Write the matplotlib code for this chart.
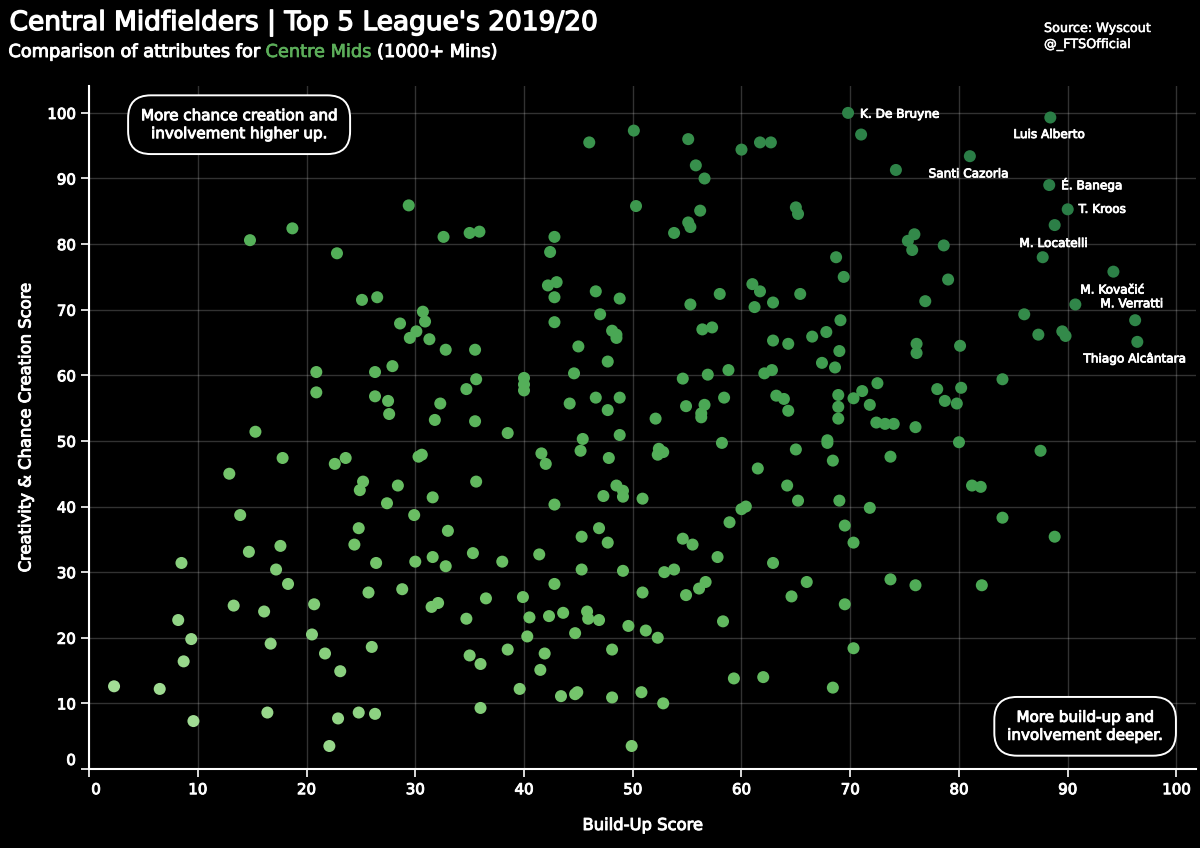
import matplotlib
matplotlib.use("Agg")
import matplotlib.pyplot as plt
import matplotlib.patheffects as pe
import matplotlib.transforms as mtransforms
import numpy as np
from matplotlib.colors import LinearSegmentedColormap, Normalize

# ── Data ──────────────────────────────────────────────────────────────────────
build_up = [
    14.8, 18.7, 22.8, 29.4, 25.1, 26.5, 28.6, 29.5, 30.1, 30.7, 30.9, 31.3,
    20.9, 20.9, 26.3, 27.9, 26.3, 27.5, 27.6, 15.3,
    17.8, 12.9, 22.6, 23.6, 25.2, 24.9, 28.4, 27.4, 29.9, 30.3, 30.6,
    13.9, 14.7, 17.6, 24.8, 24.4, 8.5, 17.2, 18.3, 26.4, 30.0, 25.7, 28.8,
    13.3, 16.1, 20.7, 8.2, 9.4, 20.5, 16.7, 26.0,
    2.3, 6.5, 8.7, 9.6, 16.4, 21.7, 23.1, 22.9, 24.8, 26.3, 22.1,
    32.6, 35.0, 35.9, 46.0, 50.1, 50.3, 55.1, 55.8, 56.6, 60.0, 61.7, 62.7,
    56.2, 55.1, 55.3, 53.8, 65.0, 65.2,
    42.8, 42.4, 42.2, 43.0, 42.8, 42.8, 46.6, 48.8, 47.0, 48.1, 48.5, 48.5,
    45.0, 47.7, 44.6, 44.2, 46.6, 48.8, 47.7, 52.1, 45.4, 48.8,
    32.8, 35.5, 35.6, 34.7, 32.3, 31.8, 35.5, 38.5, 40.0, 40.0, 40.0,
    54.6, 56.9, 58.8, 54.9, 56.6, 56.3, 56.3, 58.4,
    61.0, 61.7, 58.0, 55.3, 62.9, 61.2, 65.4, 56.4, 57.3, 62.9, 64.3, 66.5,
    62.1, 62.8, 63.2, 63.9, 64.3, 58.2,
    45.2, 41.6, 42.0, 47.8, 65.0, 52.4, 52.3, 52.8, 61.5, 64.2, 65.2, 60.0,
    60.4, 58.9,
    35.6, 31.6, 33.0, 48.5, 49.1, 49.1, 47.3, 50.9, 42.8, 46.9, 45.3, 47.7,
    54.6, 55.5, 57.8, 62.9,
    31.6, 32.8, 35.3, 38.0, 41.4, 45.3, 49.1, 52.9, 53.8,
    31.5, 32.1, 36.5, 34.7, 39.9, 42.8, 40.5, 42.3, 43.6, 45.8, 45.9, 46.9,
    50.9, 49.6, 51.2, 52.3, 44.7, 40.3,
    54.9, 56.1, 56.7, 58.3, 64.6, 66.0,
    38.5, 35.0, 36.0, 41.9, 41.5, 48.1, 39.6, 43.4, 44.7, 44.9, 48.1, 50.8,
    52.8, 59.3, 62.0, 36.0, 49.9,
    69.8, 71.0, 74.2, 81.0, 88.4, 88.3, 90.0, 88.8, 87.7, 94.2, 90.7, 96.2,
    96.4, 86.0, 87.3, 89.5, 89.8,
    75.9, 75.3, 75.7, 78.6, 79.0, 76.9, 68.7, 69.4, 69.1, 67.8, 69.0, 67.4,
    68.6, 76.1, 76.1, 80.1,
    84.0, 72.5, 71.1, 70.3, 68.9, 68.9, 68.9, 71.8, 72.4, 73.2, 74.0, 76.0,
    78.0, 78.7, 79.8, 80.2,
    67.9, 67.9, 68.4, 73.7, 80.0, 87.5, 81.2, 82.0, 69.0, 71.8, 84.0, 69.5,
    70.3, 88.8, 73.7, 76.0, 82.1, 69.5, 70.3, 68.4,
]
creativity = [
    80.6, 82.4, 78.6, 85.9, 71.5, 71.9, 67.9, 65.7, 66.7, 69.7, 68.2, 65.5,
    60.5, 57.4, 60.5, 61.4, 56.8, 56.1, 54.1, 51.4,
    47.4, 45.0, 46.5, 47.4, 43.8, 42.5, 43.2, 40.5, 38.7, 47.6, 47.9,
    38.7, 33.1, 34.0, 36.7, 34.2, 31.4, 30.4, 28.2, 31.4, 31.6, 26.9, 27.4,
    24.9, 24.0, 25.1, 22.7, 19.8, 20.5, 19.1, 18.6,
    12.6, 12.2, 16.4, 7.3, 8.6, 17.6, 14.9, 7.7, 8.6, 8.4, 3.5,
    81.1, 81.7, 81.9, 95.5, 97.3, 85.8, 96.0, 92.0, 90.0, 94.4, 95.5, 95.5,
    85.1, 83.3, 82.6, 81.7, 85.6, 84.6,
    81.1, 78.8, 73.7, 74.2, 71.9, 68.1, 72.8, 71.7, 69.3, 66.8, 66.2, 65.7,
    64.4, 62.1, 60.3, 55.7, 56.6, 56.6, 54.7, 53.4, 50.3, 50.9,
    63.9, 63.9, 59.4, 57.9, 55.7, 53.2, 53.0, 51.2, 59.6, 58.6, 57.7,
    59.5, 60.1, 60.8, 55.3, 55.5, 54.2, 53.6, 56.6,
    73.9, 72.8, 72.4, 70.8, 71.1, 70.4, 72.4, 67.0, 67.3, 65.3, 64.8, 65.9,
    60.3, 60.8, 56.9, 56.4, 54.6, 49.7,
    48.5, 48.1, 46.5, 47.4, 48.7, 48.8, 47.9, 48.3, 45.8, 43.2, 40.9, 39.6,
    40.0, 37.6,
    43.8, 41.4, 36.3, 43.2, 42.4, 41.5, 41.6, 41.2, 40.3, 36.7, 35.4, 34.5,
    35.1, 34.2, 32.3, 31.4,
    32.3, 30.9, 32.9, 31.6, 32.7, 30.4, 30.2, 30.0, 30.4,
    24.7, 25.3, 26.0, 22.9, 26.2, 28.2, 23.1, 23.3, 23.8, 24.0, 22.9, 22.7,
    26.9, 21.8, 21.1, 20.0, 20.7, 20.2,
    26.5, 27.5, 28.5, 22.5, 26.3, 28.5,
    18.2, 17.3, 16.0, 17.6, 15.1, 18.2, 12.2, 11.1, 11.4, 11.7, 10.9, 11.7,
    10.0, 13.8, 14.0, 9.3, 3.5,
    100.0, 96.7, 91.3, 93.4, 99.3, 89.0, 85.3, 82.9, 78.0, 75.8, 70.8, 68.4,
    65.1, 69.3, 66.2, 66.7, 66.0,
    81.5, 80.5, 79.1, 79.8, 74.6, 71.3, 78.0, 75.0, 68.4, 66.6, 63.7, 61.9,
    61.2, 64.8, 63.4, 64.5,
    59.4, 58.8, 57.6, 56.5, 57.0, 55.2, 53.4, 55.5, 52.8, 52.6, 52.6, 52.1,
    57.9, 56.1, 55.7, 58.1,
    50.1, 49.7, 47.0, 47.6, 49.8, 48.5, 43.2, 43.0, 40.9, 39.8, 38.3, 37.1,
    34.5, 35.4, 28.9, 28.0, 28.0, 25.1, 18.4, 12.4,
]

label_names = ["K. De Bruyne", "Luis Alberto", "Santi Cazorla", "É. Banega",
               "T. Kroos", "M. Locatelli", "M. Kovačić", "M. Verratti",
               "Thiago Alcântara"]
label_x = [70.9, 88.3, 80.9, 89.4, 91.0, 88.7, 94.1, 93.0, 96.2]
label_y = [99.8, 96.7, 90.7, 89.0, 85.3, 80.1, 73.0, 70.9, 62.5]
label_ha = ["left", "center", "center", "left", "left", "center", "center",
            "left", "center"]

x_ticks = list(range(0, 101, 10))
y_ticks = list(range(0, 101, 10))

# ── Style ─────────────────────────────────────────────────────────────────────
BG = "#000000"
FG = "#ffffff"
GREEN_TEXT = "#5cae5a"
plt.rcParams["font.family"] = ["DejaVu Sans"]


def heavy(color=FG, lw=0.7):
    # fake a semi-bold weight with a thin stroke in the text colour
    return [pe.withStroke(linewidth=lw, foreground=color)]


cmap = LinearSegmentedColormap.from_list(
    "fts_greens", ["#a8e09a", "#6cc064", "#45a452", "#2a7d46"])

fig = plt.figure(figsize=(12, 8.48), dpi=100, facecolor=BG)
ax = fig.add_axes([0.0742, 0.0932, 0.9225, 0.8054], facecolor=BG)

bx = np.array(build_up)
cy = np.array(creativity)
ax.scatter(bx, cy, c=bx + cy, cmap=cmap, norm=Normalize(10, 175),
           s=75, linewidths=0, zorder=3)

for name, lx, ly, ha in zip(label_names, label_x, label_y, label_ha):
    ax.text(lx, ly, name, color=FG, fontsize=8.7, ha=ha, va="center",
            zorder=4, path_effects=heavy(lw=0.6))

box_kw = dict(boxstyle="round,pad=0.85,rounding_size=1.5", fc=BG, ec=FG,
              lw=1.4)
ax.text(13.8, 98.2, "More chance creation and\ninvolvement higher up.",
        color=FG, fontsize=10.9, ha="center", va="center", linespacing=1.25,
        bbox=box_kw, zorder=5, path_effects=heavy())
ax.text(91.6, 6.5, "More build-up and\ninvolvement deeper.",
        color=FG, fontsize=10.9, ha="center", va="center", linespacing=1.25,
        bbox=box_kw, zorder=5, path_effects=heavy())

ax.set_xlim(0, 101.8)
ax.set_ylim(0, 104.1)
ax.set_xticks(x_ticks)
ax.set_yticks(y_ticks)
ax.tick_params(colors=FG, labelsize=10.8, length=6, width=1.2)
for lab in ax.get_xticklabels() + ax.get_yticklabels():
    lab.set_path_effects(heavy())

# the "0" labels sit slightly inside the corner in the reference
x0 = ax.get_xticklabels()[0]
x0.set_transform(x0.get_transform() +
                 mtransforms.ScaledTranslation(0.07, 0, fig.dpi_scale_trans))
y0 = ax.get_yticklabels()[0]
y0.set_transform(y0.get_transform() +
                 mtransforms.ScaledTranslation(0, 0.10, fig.dpi_scale_trans))

ax.grid(color="#ffffff", alpha=0.2, linewidth=1)
ax.set_axisbelow(True)
for side in ("top", "right"):
    ax.spines[side].set_visible(False)
for side in ("left", "bottom"):
    ax.spines[side].set_color(FG)
    ax.spines[side].set_linewidth(1.5)

ax.set_xlabel("Build-Up Score", color=FG, fontsize=11.8, labelpad=15,
              path_effects=heavy())
ax.set_ylabel("Creativity & Chance Creation Score", color=FG, fontsize=11.8,
              labelpad=10, path_effects=heavy())

# ── Header ────────────────────────────────────────────────────────────────────
fig.text(0.008, 0.9646, "Central Midfielders | Top 5 League's 2019/20",
         color=FG, fontsize=19, ha="left", va="baseline",
         path_effects=heavy(lw=1.0))
sub_y = 0.9328
sub = fig.text(0.007, sub_y, "Comparison of attributes for ", color=FG,
               fontsize=12.8, ha="left", va="baseline", path_effects=heavy())
fig.canvas.draw()
r = fig.canvas.get_renderer()
bb = sub.get_window_extent(r)
mid = fig.text(bb.x1 / fig.bbox.width, sub_y, "Centre Mids", color=GREEN_TEXT,
               fontsize=12.8, ha="left", va="baseline",
               path_effects=heavy(GREEN_TEXT, 0.5))
bb2 = mid.get_window_extent(r)
fig.text(bb2.x1 / fig.bbox.width, sub_y, " (1000+ Mins)", color=FG,
         fontsize=12.8, ha="left", va="baseline", path_effects=heavy())

fig.text(0.870, 0.9623, "Source: Wyscout", color=FG, fontsize=9.2,
         ha="left", va="baseline", path_effects=heavy(lw=0.4))
fig.text(0.870, 0.9434, "@_FTSOfficial", color=FG, fontsize=9.2,
         ha="left", va="baseline", path_effects=heavy(lw=0.4))

fig.savefig("out.png", dpi=100, facecolor=BG)
